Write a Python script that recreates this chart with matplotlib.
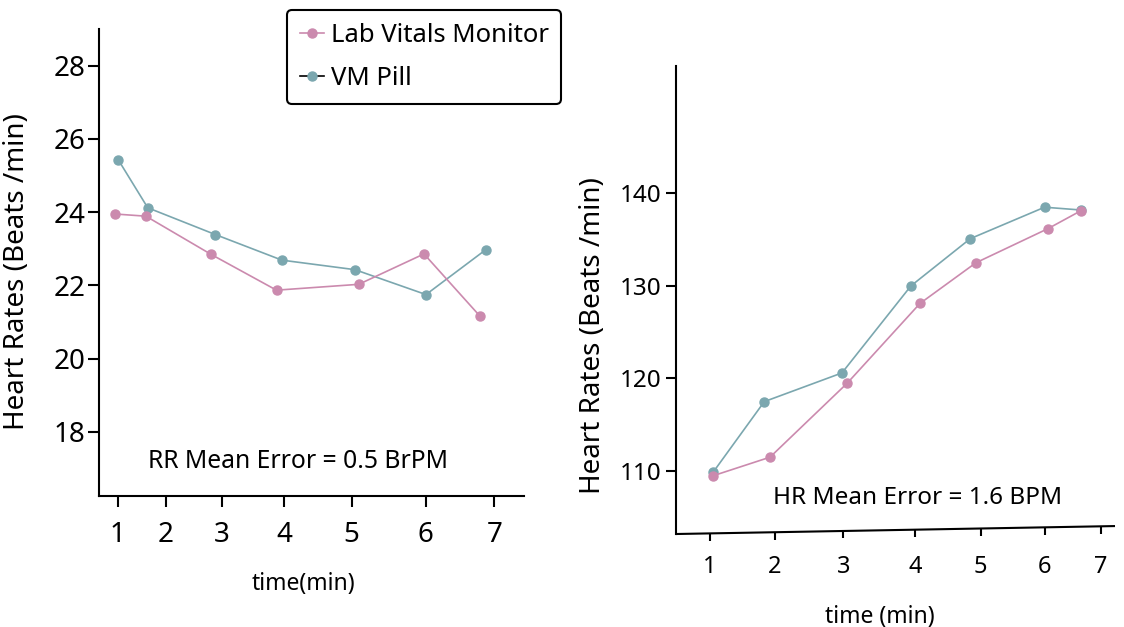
import matplotlib
matplotlib.use("Agg")
import matplotlib.pyplot as plt
from matplotlib.lines import Line2D
import matplotlib.transforms as mtransforms

plt.rcParams['font.family'] = ['Noto Sans', 'DejaVu Sans']

# respiration rate panel (left)
rr_time_lab = [0.957, 1.451, 2.486, 3.531, 4.841, 5.880, 6.772]
rr_lab = [23.95, 23.89, 22.85, 21.87, 22.03, 22.86, 21.16]
rr_time_pill = [1.014, 1.480, 2.555, 3.617, 4.780, 5.912, 6.868]
rr_pill = [25.42, 24.12, 23.39, 22.69, 22.43, 21.75, 22.98]
rr_xticks = [1, 1.765, 2.657, 3.654, 4.728, 5.907, 7]
rr_yticks = [18, 20, 22, 24, 26, 28]

# heart rate panel (right)
hr_time_lab = [1.055, 1.925, 3.110, 4.224, 5.083, 6.192, 6.688]
hr_lab = [109.5, 111.5, 119.5, 128.1, 132.5, 136.2, 138.1]
hr_time_pill = [1.055, 1.837, 3.028, 4.086, 4.996, 6.136, 6.688]
hr_pill = [109.9, 117.5, 120.6, 130.0, 135.1, 138.5, 138.2]
hr_xticks = [1, 2.001, 3.049, 4.153, 5.155, 6.137, 7]
hr_yticks = [110, 120, 130, 140]

time_labels = ['1', '2', '3', '4', '5', '6', '7']
series_names = ['Lab Vitals Monitor', 'VM Pill']

PINK = '#CB8AAE'
TEAL = '#7BA7AF'

fig = plt.figure(figsize=(11.24, 6.27), dpi=100)
ax1 = fig.add_axes([0.0881, 0.2089, 0.3781, 0.7448])
ax2 = fig.add_axes([0.6012, 0.1483, 0.3908, 0.7464])

line_kw = dict(lw=1.2, marker='o', markersize=6.5)

# ---- left: RR ----
ax1.plot(rr_time_pill, rr_pill, color=TEAL, **line_kw)
ax1.plot(rr_time_lab, rr_lab, color=PINK, **line_kw)
ax1.set_xlim(0.704, 7.473)
ax1.set_ylim(16.25, 29.0)
ax1.set_xticks(rr_xticks)
ax1.set_xticklabels(time_labels)
ax1.set_yticks(rr_yticks)
ax1.tick_params(axis='x', length=8, width=1.5, pad=10, labelsize=20)
ax1.tick_params(axis='y', length=8, width=1.5, pad=2, labelsize=20)
ax1.set_xlabel('time(min)', fontsize=16.5)
ax1.xaxis.set_label_coords(0.48, -0.163)
ax1.set_ylabel('Heart Rates (Beats /min)', fontsize=20)
ax1.yaxis.set_label_coords(-0.16, 0.481)
ax1.text(0.1146, 0.0734, 'RR Mean Error = 0.5 BrPM', transform=ax1.transAxes,
         fontsize=17.8, va='center', ha='left')

# ---- right: HR ----
ax2.plot(hr_time_pill, hr_pill, color=TEAL, **line_kw)
ax2.plot(hr_time_lab, hr_lab, color=PINK, **line_kw)
xmin, xmax = 0.479, 7.216
ax2.set_xlim(xmin, xmax)
ax2.set_ylim(103.2, 153.75)
ax2.set_xticks(hr_xticks)
ax2.set_xticklabels(time_labels)
ax2.set_yticks(hr_yticks)
ax2.tick_params(axis='x', length=0, pad=15, labelsize=17)
ax2.tick_params(axis='y', length=7, width=1.5, pad=3, labelsize=17.5)
ax2.set_xlabel('time (min)', fontsize=16.5)
ax2.xaxis.set_label_coords(0.464, -0.152)
ax2.set_ylabel('Heart Rates (Beats /min)', fontsize=20)
ax2.yaxis.set_label_coords(-0.156, 0.423)
ax2.text(0.2208, 0.0763, 'HR Mean Error = 1.6 BPM', transform=ax2.transAxes,
         fontsize=17.5, va='center', ha='left')

# slightly tilted bottom axis, hand-drawn look
tilt = 0.017
ax2.spines['bottom'].set_visible(False)
ax2.plot([0, 1], [0, tilt], transform=ax2.transAxes, color='black',
         lw=1.5, clip_on=False, solid_capstyle='butt')
blend = mtransforms.blended_transform_factory(ax2.transData, ax2.transAxes)
for xt in hr_xticks:
    y0 = tilt * (xt - xmin) / (xmax - xmin)
    ax2.plot([xt, xt], [y0, y0 - 0.016], transform=blend, color='black',
             lw=1.5, clip_on=False, solid_capstyle='butt')

for ax in (ax1, ax2):
    ax.spines['top'].set_visible(False)
    ax.spines['right'].set_visible(False)
    for s in ('left', 'bottom'):
        ax.spines[s].set_linewidth(1.5)

handles = [
    Line2D([], [], color=PINK, **line_kw),
    Line2D([], [], color='black', lw=1.2, marker='o', markersize=6.5,
           markerfacecolor=TEAL, markeredgecolor=TEAL),
]
leg = fig.legend(handles, series_names, loc='upper left',
                 bbox_to_anchor=(0.2553, 0.984), fontsize=18.5,
                 frameon=True, fancybox=True, handlelength=0.95,
                 handletextpad=0.25, labelspacing=0.72, borderpad=0.5,
                 borderaxespad=0)
leg.get_frame().set_edgecolor('black')
leg.get_frame().set_linewidth(1.5)
leg.get_frame().set_alpha(1)

fig.savefig('out.png', dpi=100)
